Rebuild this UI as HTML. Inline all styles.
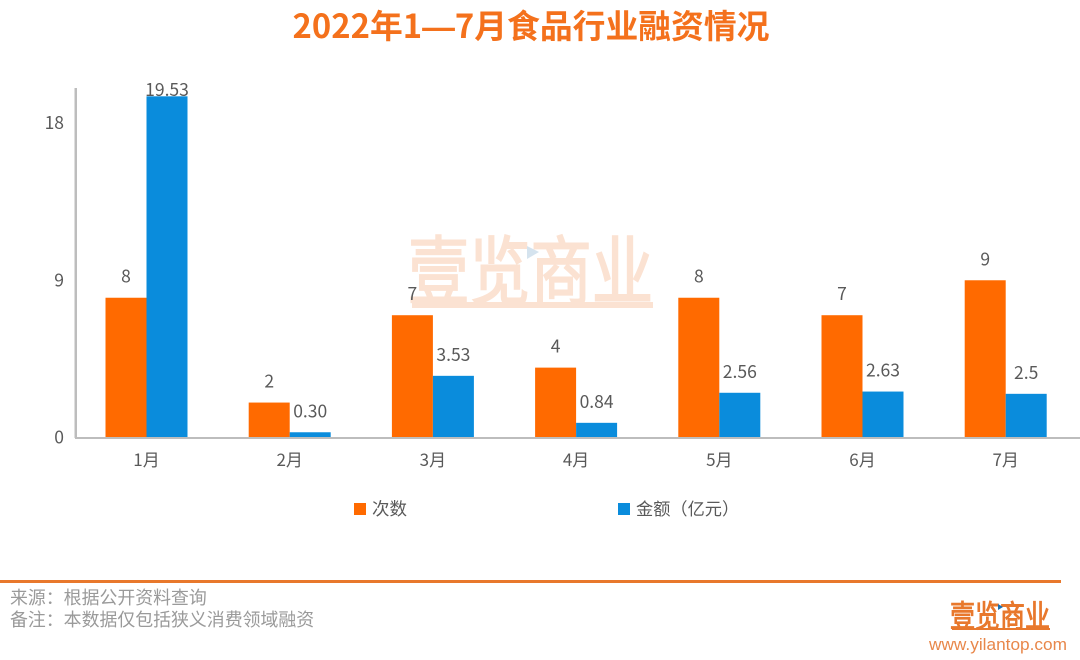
<!DOCTYPE html>
<html lang="zh-CN">
<head>
<meta charset="utf-8">
<title>2022年1—7月食品行业融资情况</title>
<style>
html,body{margin:0;padding:0;background:#fff;width:1080px;height:660px;overflow:hidden}
svg{display:block}
text{font-family:"Liberation Sans","Noto Sans CJK SC",sans-serif}
.cjk{font-family:"Noto Sans CJK SC","Liberation Sans",sans-serif}
</style>
</head>
<body>
<svg id="chart" xmlns="http://www.w3.org/2000/svg" width="1080" height="660" viewBox="0 0 1080 660">
  <text class="cjk" x="531" y="38" text-anchor="middle" font-size="32.8" font-weight="700" fill="#f4711c">2022年1<tspan style="font-family:'Liberation Sans',sans-serif">—</tspan>7月食品行业融资情况</text>

  <g>
    <text class="cjk" transform="translate(408 298) scale(1 1.22)" x="0" y="0" font-size="61" font-weight="400" stroke="#fbe2d2" stroke-width="1.6" fill="#fbe2d2" textLength="245" lengthAdjust="spacing">壹览商业</text>
    <rect x="412" y="302" width="241" height="6" fill="#fbe2d2"/>
    <polygon points="527,246 539,252 527,259" fill="#d5e3ee"/>
  </g>

  <g id="plot"></g>

  <g>
    <g>
      <rect x="354" y="503" width="12" height="12" fill="#ff6a00"/>
      <text class="cjk" x="372" y="515" font-size="17.5" fill="#595959">次数</text>
    </g>
    <g>
      <rect x="618" y="503" width="12" height="12" fill="#0a8cdc"/>
      <text class="cjk" x="636" y="515" font-size="17.2" fill="#595959">金额（亿元）</text>
    </g>
  </g>

  <rect x="0" y="580" width="1061" height="3" fill="#e8782c"/>
  <text class="cjk" x="10" y="604" font-size="17.9" fill="#9a9a9a">来源：根据公开资料查询</text>
  <text class="cjk" x="10" y="626" font-size="17.9" fill="#9a9a9a">备注：本数据仅包括狭义消费领域融资</text>

  <g>
    <text class="cjk" transform="translate(950 627) scale(1 1.22)" x="0" y="0" font-size="25" font-weight="400" stroke="#e8782c" stroke-width="0.8" fill="#e8782c" textLength="100" lengthAdjust="spacing">壹览商业</text>
    <rect x="952" y="628" width="98" height="2" fill="#e8782c"/>
    <polygon points="998,604 1003,607 998,610" fill="#1a6fb0"/>
  </g>
  <text x="929" y="650" font-size="17" fill="#e8874a" textLength="138" lengthAdjust="spacingAndGlyphs">www.yilantop.com</text>
</svg>

<script>
const categories = ['1月', '2月', '3月', '4月', '5月', '6月', '7月'];
const countValues = [8, 2, 7, 4, 8, 7, 9];
const amountValues = [19.53, 0.30, 3.53, 0.84, 2.56, 2.63, 2.5];
const amountLabels = ['19.53', '0.30', '3.53', '0.84', '2.56', '2.63', '2.5'];
const yTicks = [0, 9, 18];

const SVG_NS = 'http://www.w3.org/2000/svg';
const plot = document.getElementById('plot');
const baseY = 437.5;
const unitY = 17.47;
const firstX = 146.5;
const stepX = 143.2;
const barW = 41;

function yScale(v) { return baseY - v * unitY; }
function xScale(i) { return firstX + i * stepX; }

function make(tag, attrs, content) {
  const el = document.createElementNS(SVG_NS, tag);
  for (const k in attrs) el.setAttribute(k, attrs[k]);
  if (content !== undefined) el.textContent = content;
  plot.appendChild(el);
  return el;
}

categories.forEach(function (cat, i) {
  const cx = xScale(i);
  const countTop = yScale(countValues[i]);
  const amountTop = yScale(amountValues[i]);

  const countBar = make('rect', { x: cx - barW, y: countTop, width: barW, height: baseY - countTop, fill: '#ff6a00' });
  
  

  const amountBar = make('rect', { x: cx, y: amountTop, width: barW, height: baseY - amountTop, fill: '#0a8cdc' });
  
  

  const countLabel = make('text', { 'class': 'cjk', x: cx - barW / 2, y: Math.max(96, countTop - 15), 'text-anchor': 'middle', 'font-size': 17.5, fill: '#595959' }, String(countValues[i]));
  
  

  const amountLabel = make('text', { 'class': 'cjk', x: cx + barW / 2, y: Math.max(96, amountTop - 15), 'text-anchor': 'middle', 'font-size': 17.5, fill: '#595959' }, amountLabels[i]);
  
  

  const catLabel = make('text', { 'class': 'cjk', x: cx, y: 466, 'text-anchor': 'middle', 'font-size': 17, fill: '#595959' }, cat);
  
  
});

yTicks.forEach(function (t) {
  const tick = make('text', { 'class': 'cjk', x: 64, y: yScale(t) + 6, 'text-anchor': 'end', 'font-size': 17.5, fill: '#595959' }, String(t));
  
  
});

const yAxis = make('rect', { x: 74.5, y: 88, width: 2.5, height: 350, fill: '#bdbdbd' });



const xAxis = make('rect', { x: 75, y: 437, width: 1005, height: 2, fill: '#bdbdbd' });


</script>
</body>
</html>
